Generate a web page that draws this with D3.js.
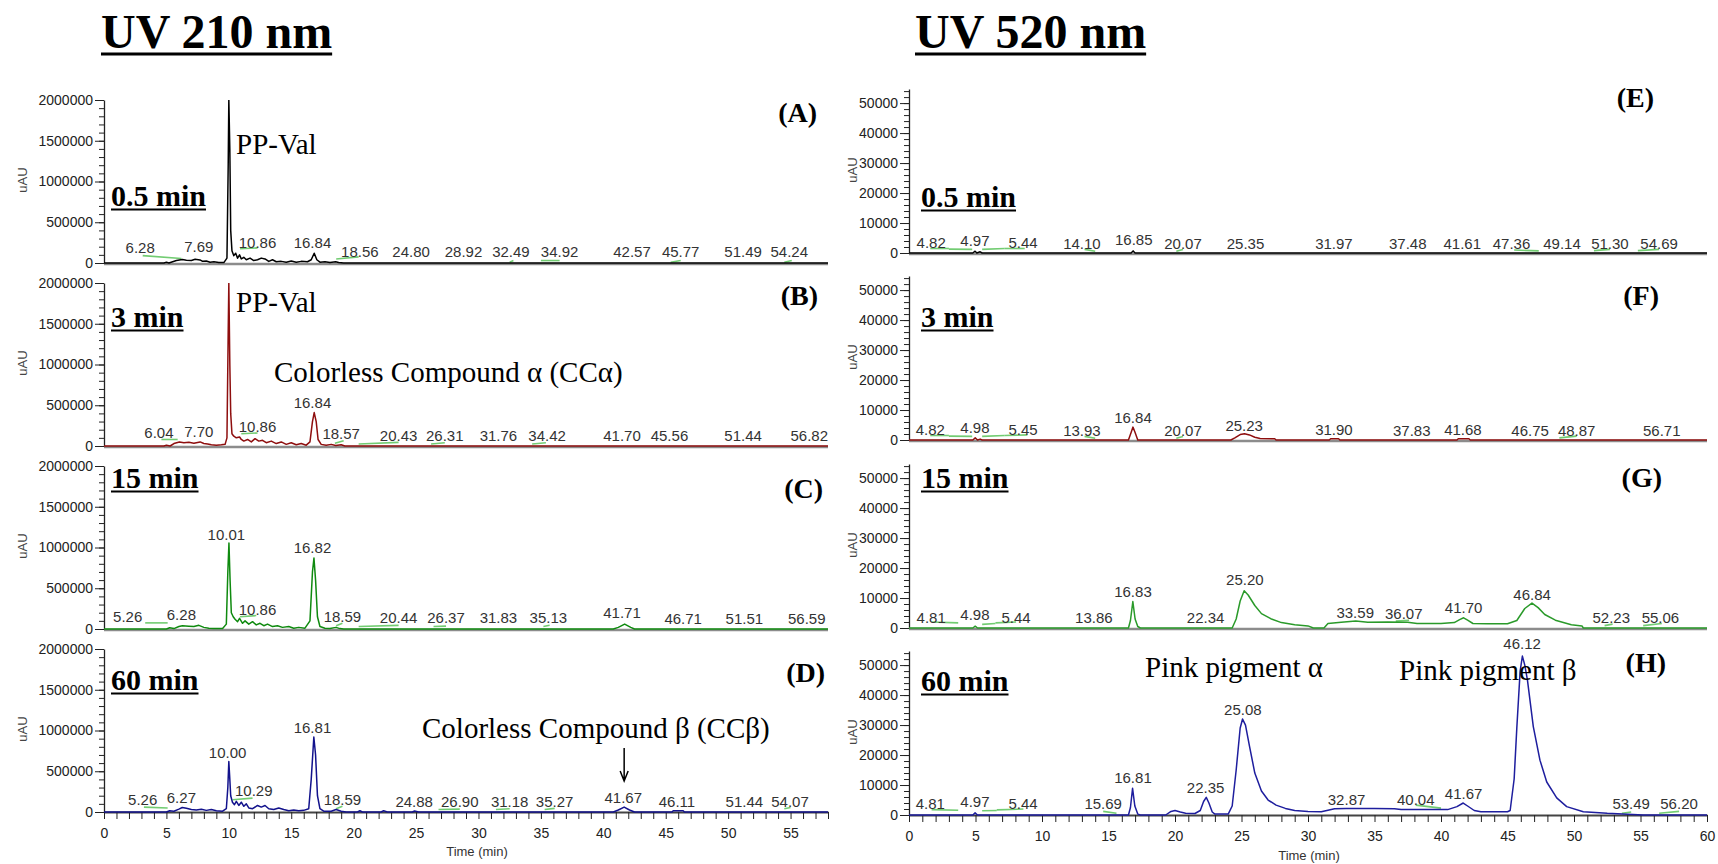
<!DOCTYPE html>
<html><head><meta charset="utf-8">
<script src="https://cdn.jsdelivr.net/npm/d3@7"></script>
<style>
body{margin:0;background:#fff;}
svg{display:block;background:#fff;}
</style></head><body>
<svg id="fig" width="1718" height="864"></svg>
<script>
// ---------------- chromatogram data: [time (min), signal (uAU)] ----------------
const traceA = [[0,0],[4.8,0],[5.0,8000],[5.2,0],[5.5,15000],[5.8,30000],[6.28,42000],[6.6,35000],[7.0,30000],[7.3,45000],[7.69,38000],[7.9,20000],[8.2,25000],[8.5,10000],[8.8,15000],[9.2,5000],[9.6,5000],[9.85,60000],[9.95,1200000],[10.0,2000000],[10.08,1400000],[10.15,400000],[10.25,150000],[10.4,90000],[10.55,120000],[10.7,60000],[10.86,100000],[11.0,50000],[11.2,70000],[11.4,40000],[11.7,60000],[12.0,30000],[12.3,40000],[12.6,60000],[12.9,50000],[13.2,20000],[13.5,40000],[13.8,15000],[14.2,20000],[14.6,10000],[15.0,25000],[15.4,10000],[15.8,20000],[16.3,15000],[16.6,40000],[16.84,120000],[17.05,40000],[17.3,10000],[17.7,15000],[18.1,5000],[18.56,15000],[18.8,5000],[19.2,0],[58,0]];
const traceB = [[0,0],[4.8,0],[5.0,10000],[5.3,0],[5.6,30000],[6.04,50000],[6.4,40000],[6.8,45000],[7.2,35000],[7.7,50000],[8.0,30000],[8.3,25000],[8.6,15000],[9.0,10000],[9.4,15000],[9.7,20000],[9.85,100000],[9.95,1400000],[10.0,2000000],[10.08,1000000],[10.15,400000],[10.25,150000],[10.4,120000],[10.6,100000],[10.86,110000],[11.0,80000],[11.2,60000],[11.5,80000],[11.8,50000],[12.1,90000],[12.4,60000],[12.7,70000],[13.0,40000],[13.4,60000],[13.8,30000],[14.2,50000],[14.6,20000],[15.0,40000],[15.4,15000],[15.8,30000],[16.2,10000],[16.5,50000],[16.7,300000],[16.84,410000],[17.0,300000],[17.15,80000],[17.4,20000],[17.8,10000],[18.2,20000],[18.57,5000],[19.0,15000],[19.3,0],[58,0]];
const traceC = [[0,0],[5.0,0],[5.26,15000],[5.6,5000],[6.0,30000],[6.28,40000],[6.8,35000],[7.2,30000],[7.6,45000],[8.0,20000],[8.4,10000],[8.8,5000],[9.5,5000],[9.8,60000],[9.92,700000],[10.01,1055000],[10.1,600000],[10.2,200000],[10.35,150000],[10.5,120000],[10.7,90000],[10.86,130000],[11.1,70000],[11.3,100000],[11.6,60000],[11.9,90000],[12.2,50000],[12.5,70000],[12.8,40000],[13.1,60000],[13.5,30000],[13.9,40000],[14.3,20000],[14.8,30000],[15.2,10000],[15.6,20000],[16.1,10000],[16.5,100000],[16.7,700000],[16.82,870000],[16.95,600000],[17.1,150000],[17.3,30000],[17.7,10000],[18.1,5000],[18.59,20000],[18.9,5000],[19.2,0],[40.8,0],[41.2,20000],[41.71,60000],[42.2,20000],[42.5,0],[58,0]];
const traceD = [[0,0],[5.0,0],[5.26,15000],[5.6,10000],[6.0,35000],[6.27,55000],[6.6,45000],[7.0,30000],[7.4,25000],[7.8,35000],[8.2,20000],[8.6,30000],[9.0,15000],[9.5,10000],[9.8,40000],[9.92,300000],[10.0,620000],[10.08,400000],[10.15,200000],[10.29,120000],[10.45,90000],[10.6,130000],[10.8,80000],[11.0,120000],[11.2,70000],[11.4,100000],[11.6,50000],[11.9,40000],[12.3,80000],[12.6,60000],[12.9,80000],[13.2,40000],[13.6,30000],[14.0,50000],[14.4,30000],[14.8,15000],[15.2,25000],[15.6,15000],[16.0,20000],[16.4,40000],[16.6,400000],[16.81,920000],[16.95,700000],[17.1,200000],[17.3,40000],[17.6,10000],[18.2,10000],[18.59,30000],[19.0,10000],[19.4,0],[20.3,0],[20.5,15000],[20.7,0],[22.2,0],[22.4,15000],[22.7,0],[24.7,0],[24.88,12000],[25.2,0],[40.8,0],[41.2,25000],[41.67,60000],[42.1,25000],[42.5,0],[45.5,0],[45.6,15000],[46.4,15000],[46.5,0],[58,0]];

const traceE = [[0,0],[4.8,0],[4.97,600],[5.1,0],[5.35,400],[5.5,0],[16.7,0],[16.85,700],[17.0,0],[60,0]];
const traceF = [[0,0],[4.8,0],[4.98,700],[5.15,0],[5.35,300],[5.5,0],[16.5,0],[16.7,2500],[16.84,4300],[17.0,2500],[17.2,0],[24.2,0],[24.5,700],[24.9,1800],[25.23,2100],[25.6,1700],[26.0,900],[26.4,500],[27.5,400],[27.6,0],[31.6,0],[31.7,400],[32.3,400],[32.4,0],[41.2,0],[41.3,400],[42.1,400],[42.2,0],[60,0]];
const traceG = [[0,0],[4.8,0],[4.98,600],[5.15,0],[16.5,0],[16.65,2500],[16.83,8800],[17.0,3000],[17.2,500],[17.4,0],[24.3,0],[24.6,3000],[24.9,9000],[25.2,12400],[25.5,11000],[26.0,7500],[26.5,4800],[27.2,3100],[28.0,1800],[29.0,1100],[30.0,700],[30.4,0],[31.2,0],[31.5,1500],[32.5,1900],[33.59,2300],[34.5,1900],[36.0,2000],[37.5,1900],[38.2,1500],[40.0,1500],[41.0,1800],[41.4,2800],[41.7,3400],[42.0,2600],[42.4,1500],[43.5,1400],[45.0,1400],[45.7,2500],[46.3,6500],[46.84,8300],[47.3,6800],[47.8,4500],[48.6,2600],[49.8,1100],[50.6,700],[50.7,0],[60,0]];
const traceH = [[0,0],[4.8,0],[4.97,700],[5.15,0],[16.5,0],[16.65,2500],[16.81,8900],[16.98,3000],[17.2,300],[17.4,0],[19.3,0],[19.7,1200],[20.0,1500],[20.4,1000],[20.8,600],[21.5,500],[21.9,1500],[22.15,4500],[22.35,5900],[22.55,4000],[22.8,1000],[23.0,300],[24.0,300],[24.3,3000],[24.6,15000],[24.9,29000],[25.08,32000],[25.3,30000],[25.6,23000],[26.0,14000],[26.5,8000],[27.0,5000],[27.6,3300],[28.3,2200],[29.0,1500],[30.0,1200],[31.0,1100],[31.5,1600],[32.0,2100],[32.87,2200],[35.0,2200],[36.5,2100],[37.0,1800],[40.5,1800],[41.2,2800],[41.67,4000],[42.0,3000],[42.5,1500],[43.0,1100],[45.0,1100],[45.2,1500],[45.5,12000],[45.7,29000],[45.95,48000],[46.12,53000],[46.3,50000],[46.5,45000],[46.94,29500],[47.44,18300],[47.95,11000],[48.7,5700],[49.45,2800],[50.7,1100],[52.5,550],[55.2,0],[60,0]];

// peak labels: [text, time, signal]
const peaksA = [["6.28",2.9,120000],["7.69",7.6,135000],["10.86",12.3,185000],["16.84",16.7,185000],["18.56",20.5,70000],["24.80",24.6,70000],["28.92",28.8,70000],["32.49",32.6,70000],["34.92",36.5,70000],["42.57",42.3,70000],["45.77",46.2,70000],["51.49",51.2,70000],["54.24",54.9,70000]];
const peaksB = [["6.04",4.4,100000],["7.70",7.6,110000],["10.86",12.3,170000],["16.84",16.7,465000],["18.57",19.0,85000],["20.43",23.6,60000],["26.31",27.3,60000],["31.76",31.6,60000],["34.42",35.5,60000],["41.70",41.5,60000],["45.56",45.3,60000],["51.44",51.2,60000],["56.82",56.5,60000]];
const peaksC = [["5.26",1.9,85000],["6.28",6.2,110000],["10.01",9.8,1090000],["10.86",12.3,170000],["16.82",16.7,930000],["18.59",19.1,85000],["20.44",23.6,70000],["26.37",27.4,70000],["31.83",31.6,70000],["35.13",35.6,70000],["41.71",41.5,135000],["46.71",46.4,60000],["51.51",51.3,60000],["56.59",56.3,60000]];
const peaksD = [["5.26",3.1,85000],["6.27",6.2,110000],["10.00",9.9,660000],["10.29",12.0,195000],["16.81",16.7,970000],["18.59",19.1,85000],["24.88",24.85,65000],["26.90",28.5,65000],["31.18",32.5,65000],["35.27",36.1,65000],["41.67",41.6,110000],["46.11",45.9,65000],["51.44",51.3,65000],["54.07",54.96,65000]];
const peaksE = [["4.82",1.67,1700],["4.97",4.96,2300],["5.44",8.57,1700],["14.10",13.0,1500],["16.85",16.9,2700],["20.07",20.6,1500],["25.35",25.3,1500],["31.97",31.95,1500],["37.48",37.5,1500],["41.61",41.6,1500],["47.36",45.3,1500],["49.14",49.1,1500],["51.30",52.7,1500],["54.69",56.4,1500]];
const peaksF = [["4.82",1.6,1700],["4.98",4.96,2300],["5.45",8.57,1700],["13.93",13.0,1500],["16.84",16.84,5700],["20.07",20.6,1500],["25.23",25.2,3100],["31.90",31.95,1700],["37.83",37.8,1500],["41.68",41.65,1700],["46.75",46.7,1500],["48.87",50.2,1500],["56.71",56.6,1500]];
const peaksG = [["4.81",1.67,1700],["4.98",4.96,2600],["5.44",8.05,1700],["13.86",13.9,1700],["16.83",16.84,10300],["22.34",22.3,1700],["25.20",25.25,14300],["33.59",33.55,3300],["36.07",37.2,3000],["41.70",41.7,5000],["46.84",46.85,9300],["52.23",52.8,1700],["55.06",56.5,1700]];
const peaksH = [["4.81",1.6,2000],["4.97",4.96,2700],["5.44",8.57,2000],["15.69",14.6,2000],["16.81",16.84,10700],["22.35",22.3,7300],["25.08",25.1,33300],["32.87",32.9,3300],["40.04",38.1,3300],["41.67",41.7,5300],["46.12",46.1,55300],["53.49",54.3,2000],["56.20",57.9,2000]];

// integration baseline markers: [t1, v1, t2, v2]
const marksA = [[3.1,90000,6.2,55000],[10.9,175000,12.3,185000],[18.6,50000,20.4,75000],[32.5,10000,32.8,30000],[35.0,30000,36.5,30000],[45.4,10000,46.2,30000],[54.5,10000,55.1,30000]];
const marksB = [[4.6,80000,5.9,80000],[11.0,150000,12.3,160000],[18.5,35000,19.2,65000],[20.4,25000,23.6,45000],[26.2,25000,27.3,40000],[34.3,25000,35.4,40000]];
const marksC = [[3.3,75000,5.1,75000],[10.9,150000,12.2,165000],[18.6,40000,19.1,70000],[20.4,30000,23.6,45000],[26.4,30000,27.4,35000],[35.2,30000,35.7,45000]];
const marksD = [[3.2,60000,5.1,50000],[10.3,150000,11.9,170000],[18.6,40000,19.1,70000],[26.8,30000,28.5,35000],[31.4,30000,32.5,40000],[35.3,30000,36.1,45000],[54.5,40000,55.0,55000]];
const marksE = [[1.6,1500,3.0,1500],[3.0,1300,4.75,1200],[5.5,1200,7.2,1500],[7.2,1500,8.7,1500],[13.2,1200,14.0,600],[20.1,600,20.6,1200],[45.5,1000,47.35,700],[51.5,800,52.7,1200],[54.8,800,56.4,1200]];
const marksF = [[1.6,1500,3.0,1500],[3.0,1300,4.75,1200],[5.5,1200,7.2,1500],[7.2,1500,8.9,1700],[13.2,1200,14.0,600],[20.1,600,20.6,1200],[48.9,700,50.2,1300]];
const marksG = [[1.7,2000,3.7,1700],[5.5,1200,6.5,1500],[6.5,1700,8.05,2000],[36.6,2300,37.6,2600],[52.3,800,52.9,1300],[55.2,800,56.6,1500]];
const marksH = [[1.7,1800,3.7,1600],[5.5,1400,6.6,1500],[6.6,1700,8.6,2000],[14.6,1200,15.6,600],[38.1,3300,40.0,2300],[53.6,600,54.3,1000],[56.4,600,57.9,1200]];

// axis ticks
const leftYMajor = [0, 500000, 1000000, 1500000, 2000000];
const leftYMinor = d3.range(0, 2000001, 100000);
const rightYMajor = [0, 10000, 20000, 30000, 40000, 50000];
const rightYMinor = d3.range(0, 54001, 2000);
const leftXTicks = d3.range(0, 59, 1);
const rightXTicks = d3.range(0, 61, 1);

const sampleTimes = ["0.5 min", "3 min", "15 min", "60 min"];
const leftLetters = ["(A)", "(B)", "(C)", "(D)"];
const rightLetters = ["(E)", "(F)", "(G)", "(H)"];

// ---------------- layout ----------------
const SANS = "'Liberation Sans', Arial, sans-serif";
const SERIF = "'Liberation Serif', 'Times New Roman', serif";
const svg = d3.select("#fig");

const leftCol = {
  x: d3.scaleLinear().domain([0, 58]).range([104, 828]),
  zeros: [263, 446, 629, 812], plotH: 163, yMax: 2000000,
  yMajor: leftYMajor, yMinor: leftYMinor, xTicks: leftXTicks,
  uauX: 22, letterRight: [817, 818, 823, 825], letterBase: [122, 305, 498, 682],
  timeX: 111, timeBase: [206, 327, 488, 690],
  timeLabelX: 477, timeLabelY: 856
};
const rightCol = {
  x: d3.scaleLinear().domain([0, 60]).range([909, 1707]),
  zeros: [253, 440, 628, 815], plotH: 164, yMax: 54700,
  yMajor: rightYMajor, yMinor: rightYMinor, xTicks: rightXTicks,
  uauX: 852, letterRight: [1654, 1659, 1662, 1666], letterBase: [107, 305, 487, 672],
  timeX: 921, timeBase: [207, 327, 488, 691],
  timeLabelX: 1309, timeLabelY: 860
};

const leftPanels = [
  {trace: traceA, peaks: peaksA, marks: marksA, color: "#000000"},
  {trace: traceB, peaks: peaksB, marks: marksB, color: "#8e0e0e"},
  {trace: traceC, peaks: peaksC, marks: marksC, color: "#0f8a0f"},
  {trace: traceD, peaks: peaksD, marks: marksD, color: "#12128c"}
];
const rightPanels = [
  {trace: traceE, peaks: peaksE, marks: marksE, color: "#000000"},
  {trace: traceF, peaks: peaksF, marks: marksF, color: "#8e0e0e"},
  {trace: traceG, peaks: peaksG, marks: marksG, color: "#2a9a2a"},
  {trace: traceH, peaks: peaksH, marks: marksH, color: "#1e1e9e"}
];

const defs = svg.append("defs");
let clipN = 0;

function drawColumn(col, panels) {
  const x = col.x;
  const [x0, x1] = x.range();
  panels.forEach((p, i) => {
    const zero = col.zeros[i];
    const y = d3.scaleLinear().domain([0, col.yMax]).range([zero, zero - col.plotH]);
    const g = svg.append("g");
    const last = i === panels.length - 1;

    // clipping regions
    const cid = "clip" + (clipN++);
    defs.append("clipPath").attr("id", cid).append("rect")
      .attr("x", x0).attr("y", zero - col.plotH).attr("width", x1 - x0).attr("height", col.plotH + 3);
    const lid = "clip" + (clipN++);
    defs.append("clipPath").attr("id", lid).append("rect")
      .attr("x", x0 - 40).attr("y", zero - col.plotH - 30).attr("width", x1 - x0 + 40).attr("height", col.plotH + 32);

    // minor + major y ticks
    const minor = g.append("g").attr("transform", `translate(${x0},0)`)
      .call(d3.axisLeft(y).tickValues(col.yMinor).tickSize(5).tickSizeOuter(0).tickFormat(""));
    minor.select(".domain").remove();
    const major = g.append("g").attr("transform", `translate(${x0},0)`)
      .call(d3.axisLeft(y).tickValues(col.yMajor).tickSize(9).tickPadding(2).tickSizeOuter(0).tickFormat(d3.format("d")));
    [minor, major].forEach(a => a.attr("font-size", 14).attr("font-family", SANS).style("color", "#222"));
    major.select(".domain").attr("stroke-width", 1.3);

    // uAU axis title
    g.append("text")
      .attr("transform", `translate(${col.uauX + 5},${zero - 83}) rotate(-90)`)
      .attr("text-anchor", "middle").attr("font-family", SANS).attr("font-size", 13)
      .attr("fill", "#444").text("uAU");

    // baseline / time axis
    if (last) {
      const xa = g.append("g").attr("transform", `translate(0,${zero})`)
        .call(d3.axisBottom(x).tickValues(col.xTicks).tickSize(7).tickPadding(9).tickSizeOuter(0)
          .tickFormat(d => d % 5 === 0 ? d : ""));
      xa.attr("font-size", 14).attr("font-family", SANS).style("color", "#222");
      xa.select(".domain").attr("stroke", "#444").attr("stroke-width", 2);
      g.append("text").attr("x", col.timeLabelX).attr("y", col.timeLabelY)
        .attr("text-anchor", "middle").attr("font-family", SANS).attr("font-size", 13)
        .attr("fill", "#333").text("Time (min)");
    } else {
      g.append("line").attr("x1", x0).attr("x2", x1).attr("y1", zero + 1).attr("y2", zero + 1)
        .attr("stroke", "#8c8c8c").attr("stroke-width", 2.5);
    }

    // integration markers
    g.append("g").attr("clip-path", `url(#${lid})`).selectAll("line").data(p.marks).join("line")
      .attr("x1", d => x(d[0])).attr("y1", d => y(d[1]))
      .attr("x2", d => x(d[2])).attr("y2", d => y(d[3]))
      .attr("stroke", "#72cc72").attr("stroke-width", 1.6);

    // chromatogram trace
    const line = d3.line().x(d => x(d[0])).y(d => y(d[1]));
    g.append("path").datum(p.trace).attr("clip-path", `url(#${cid})`)
      .attr("d", line).attr("fill", "none").attr("stroke", p.color)
      .attr("stroke-width", 1.5).attr("stroke-linejoin", "round");

    // retention time labels
    g.append("g").attr("clip-path", `url(#${lid})`).selectAll("text").data(p.peaks).join("text")
      .attr("x", d => x(d[1])).attr("y", d => y(d[2]))
      .attr("text-anchor", "middle").attr("font-family", SANS).attr("font-size", 15)
      .attr("fill", "#333").text(d => d[0]);

    // panel letter
    g.append("text").attr("x", col.letterRight[i]).attr("y", col.letterBase[i])
      .attr("text-anchor", "end").attr("font-family", SERIF).attr("font-weight", "bold")
      .attr("font-size", 28).attr("fill", "#000").text(i < 4 && col === leftCol ? leftLetters[i] : rightLetters[i]);

    // sampling time, underlined
    const t = g.append("text").attr("x", col.timeX).attr("y", col.timeBase[i])
      .attr("font-family", SERIF).attr("font-weight", "bold").attr("font-size", 30)
      .attr("fill", "#000").text(sampleTimes[i]);
    const w = t.node().getComputedTextLength();
    g.append("line").attr("x1", col.timeX).attr("x2", col.timeX + w)
      .attr("y1", col.timeBase[i] + 3.5).attr("y2", col.timeBase[i] + 3.5)
      .attr("stroke", "#000").attr("stroke-width", 2);

    p.y = y;
  });
}

drawColumn(leftCol, leftPanels);
drawColumn(rightCol, rightPanels);

// column titles
[["UV 210 nm", 101], ["UV 520 nm", 915]].forEach(([s, x]) => {
  const t = svg.append("text").attr("x", x).attr("y", 48)
    .attr("font-family", SERIF).attr("font-weight", "bold").attr("font-size", 48)
    .attr("fill", "#000").text(s);
  const w = t.node().getComputedTextLength();
  svg.append("line").attr("x1", x).attr("x2", x + w).attr("y1", 54).attr("y2", 54)
    .attr("stroke", "#000").attr("stroke-width", 3);
});

// compound annotations
const notes = [
  ["PP-Val", 236, 154],
  ["PP-Val", 236, 312],
  ["Colorless Compound α (CCα)", 274, 382],
  ["Colorless Compound β (CCβ)", 422, 738],
  ["Pink pigment α", 1145, 677],
  ["Pink pigment β", 1399, 680]
];
svg.append("g").selectAll("text").data(notes).join("text")
  .attr("x", d => d[1]).attr("y", d => d[2])
  .attr("font-family", SERIF).attr("font-size", 29).attr("fill", "#000")
  .text(d => d[0]);

// arrow pointing at the CCβ peak
const ax = leftCol.x(41.67);
svg.append("path")
  .attr("d", `M${ax},748 V781 M${ax - 4},771 L${ax},781 L${ax + 4},771`)
  .attr("fill", "none").attr("stroke", "#000").attr("stroke-width", 1.5);
</script>
</body></html>
